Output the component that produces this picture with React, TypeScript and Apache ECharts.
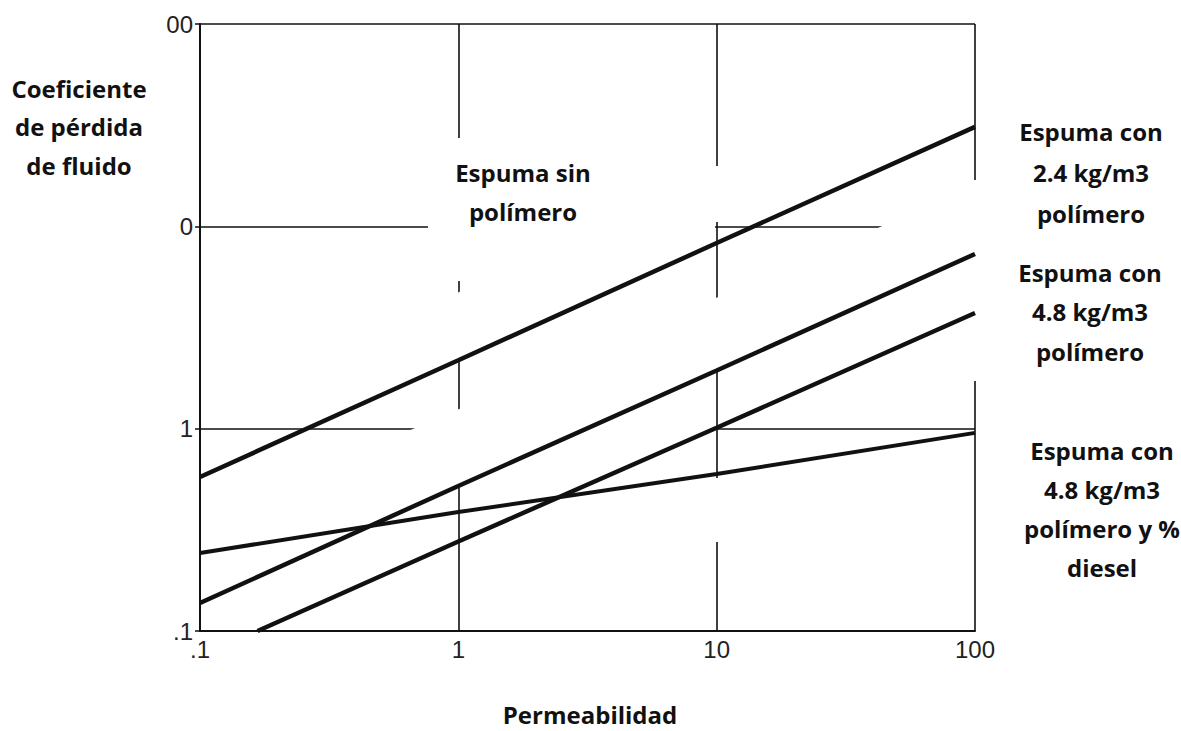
import React, { useEffect, useRef } from "react";
import * as echarts from "echarts";

// Permeability (x) values at which each line was read
const permeability = [0.1, 1, 10, 100];
const permeabilityLine3 = [0.167, 1, 10, 100];

// Fluid-loss coefficient values
const sinPolimero = [0.577, 2.18, 8.27, 31.0];
const con24 = [0.1375, 0.521, 1.94, 7.3];
const con48 = [0.1, 0.277, 1.01, 3.73];
const con48Diesel = [0.243, 0.387, 0.597, 0.953];

const xTickLabels = [".1", "1", "10", "100"];
const yTickLabels = [".1", "1", "0", "00"];

const leftTitle = ["Coeficiente", "de pérdida", "de fluido"];
const insideLabel = ["Espuma sin", "polímero"];
const rightLabel1 = ["Espuma con", "2.4 kg/m3", "polímero"];
const rightLabel2 = ["Espuma con", "4.8 kg/m3", "polímero"];
const rightLabel3 = ["Espuma con", "4.8 kg/m3", "polímero y %", "diesel"];
const xTitle = "Permeabilidad";

const FONT = "'Open Sans', 'Noto Sans', sans-serif";

function pairs(xs: number[], ys: number[]) {
  return xs.map((x, i) => [x, ys[i]]);
}

function textBlock(lines: string[], cx: number, y0: number, step: number) {
  return lines.map((t, i) => ({
    type: "text",
    x: cx,
    y: y0 + i * step,
    z: 20,
    style: {
      text: t,
      fill: "#111",
      font: `bold 24px ${FONT}`,
      textAlign: "center",
      textVerticalAlign: "middle",
    },
  }));
}

function patch(points: number[][]) {
  return {
    type: "polygon",
    z: 5,
    silent: true,
    shape: { points },
    style: { fill: "#ffffff" },
  };
}

export default function App() {
  const ref = useRef<HTMLDivElement>(null);
  useEffect(() => {
    document.body.style.margin = "0";
    const chart = echarts.init(ref.current!, undefined, { renderer: "svg" });
    const lineStyle = (w: number) => ({ color: "#111", width: w });
    const mk = (name: string, xs: number[], ys: number[], w: number) => ({
      name,
      type: "line",
      data: pairs(xs, ys),
      symbol: "none",
      z: 10,
      lineStyle: lineStyle(w),
    });
    const logIndex = (v: number) => Math.round(Math.log10(v)) + 1;
    chart.setOption({
      animation: false,
      backgroundColor: "#ffffff",
      grid: { left: 200, top: 24, right: 206, bottom: 100 },
      xAxis: {
        type: "log",
        logBase: 10,
        min: 0.1,
        max: 100,
        axisLine: { show: true, lineStyle: { color: "#111", width: 2 } },
        axisTick: { show: false },
        minorTick: { show: false },
        axisLabel: {
          margin: 6,
          color: "#222",
          fontSize: 24,
          fontFamily: "'Liberation Sans', Arial, sans-serif",
          formatter: (v: number) => xTickLabels[logIndex(v)] ?? "",
        },
        splitLine: { show: true, lineStyle: { color: "#111", width: 1.6 } },
      },
      yAxis: {
        type: "log",
        logBase: 10,
        min: 0.1,
        max: 100,
        axisLine: { show: true, lineStyle: { color: "#111", width: 2 } },
        axisTick: { show: true, length: 5, lineStyle: { color: "#111", width: 1.5 } },
        minorTick: { show: false },
        axisLabel: {
          margin: 7,
          color: "#222",
          fontSize: 24,
          fontFamily: "'Liberation Sans', Arial, sans-serif",
          formatter: (v: number) => yTickLabels[logIndex(v)] ?? "",
        },
        splitLine: { show: true, lineStyle: { color: "#111", width: 1.6 } },
      },
      graphic: [
        // white masks that interrupt the grid, as in the scanned original
        patch([[428, 138], [714, 138], [714, 166], [722, 166], [722, 222], [715, 222], [715, 228], [470, 228], [470, 281], [428, 281]]),
        patch([[437, 372], [700, 253], [700, 183], [437, 302]]),
        patch([[392, 518], [998, 245], [998, 176], [392, 438]]),
        patch([[586, 421], [713, 421], [713, 437], [586, 437]]),
        patch([[958, 180], [998, 180], [998, 381], [958, 381]]),
        patch([[700, 478], [735, 478], [735, 542], [700, 542]]),
        ...textBlock(leftTitle, 79, 88, 38.5),
        ...textBlock(insideLabel, 523, 172, 39),
        ...textBlock(rightLabel1, 1091, 131, 41),
        ...textBlock(rightLabel2, 1090, 272, 39.5),
        ...textBlock(rightLabel3, 1102, 450, 39.3),
        ...textBlock([xTitle], 590, 714, 0),
      ],
      series: [
        mk("Espuma sin polímero", permeability, sinPolimero, 4.5),
        mk("Espuma con 2.4 kg/m3 polímero", permeability, con24, 4.5),
        mk("Espuma con 4.8 kg/m3 polímero", permeabilityLine3, con48, 4.5),
        mk("Espuma con 4.8 kg/m3 polímero y % diesel", permeability, con48Diesel, 4),
      ],
    });
    return () => chart.dispose();
  }, []);
  return <div ref={ref} style={{ width: 1181, height: 731 }} />;
}
